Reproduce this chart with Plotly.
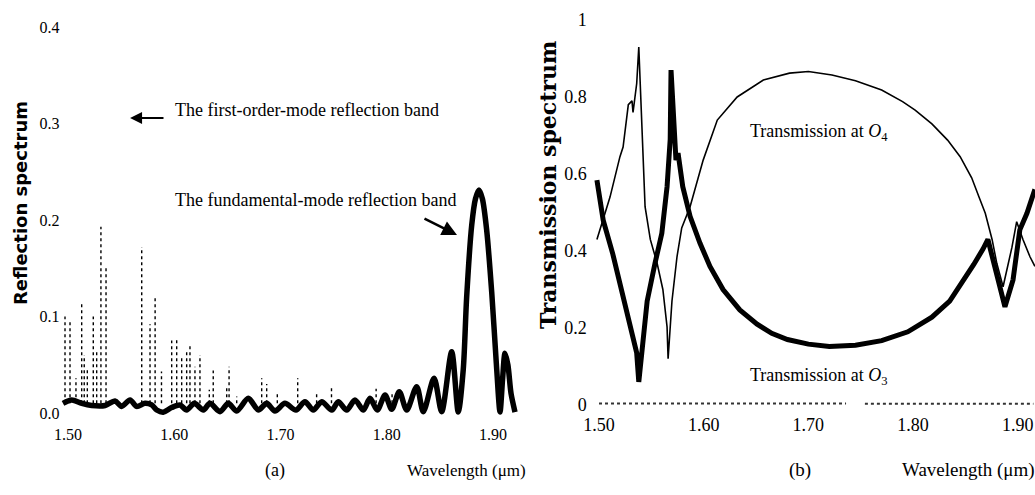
import plotly.graph_objects as go

# ---------------- Panel (a): reflection spectrum ----------------
wl_a = [1.4953, 1.5035, 1.513, 1.5223, 1.535, 1.5442, 1.5505, 1.5584, 1.5646, 1.5725,
        1.5788, 1.5835, 1.5897, 1.5976, 1.6054, 1.6117, 1.6189, 1.6274, 1.6336, 1.643,
        1.6509, 1.6588, 1.6697, 1.6791, 1.687, 1.6948, 1.7042, 1.7145, 1.723, 1.7309,
        1.7388, 1.7482, 1.7544, 1.7623, 1.7701, 1.778, 1.7842, 1.7911, 1.7984, 1.8047,
        1.8118, 1.8188, 1.8282, 1.8344, 1.8445, 1.8517, 1.8611, 1.8673, 1.872, 1.8752,
        1.88, 1.8835, 1.8868, 1.890, 1.894, 1.8988, 1.9035, 1.9066, 1.909, 1.9113,
        1.914, 1.917, 1.9207]
refl_fund = [0.010, 0.0135, 0.010, 0.0078, 0.0078, 0.0125, 0.0068, 0.0135, 0.0068, 0.010,
             0.0083, 0.0031, 0.0008, 0.0056, 0.0083, 0.0031, 0.010, 0.0031, 0.010, 0.0014,
             0.010, 0.002, 0.0152, 0.003, 0.010, 0.002, 0.010, 0.003, 0.0117, 0.003,
             0.0117, 0.003, 0.0117, 0.003, 0.0135, 0.003, 0.0152, 0.003, 0.0186, 0.0038,
             0.022, 0.003, 0.0273, 0.0014, 0.036, 0.0014, 0.0635, 0.001, 0.045, 0.12,
             0.195, 0.222, 0.231, 0.222, 0.19, 0.125, 0.045, 0.001, 0.035, 0.062,
             0.05, 0.02, 0.001]

# first-order-mode reflection band: narrow spikes (position, top value)
spike_wl = [1.4972, 1.5019, 1.5075, 1.5129, 1.5153, 1.5182, 1.5238, 1.527, 1.531, 1.5358,
            1.5694, 1.5772, 1.582, 1.588, 1.5976, 1.6023, 1.607, 1.6117, 1.6148, 1.6195,
            1.6242, 1.633, 1.6367, 1.6494, 1.6516, 1.6588, 1.6823, 1.687, 1.697, 1.7162,
            1.734, 1.748, 1.79, 1.805]
spike_top = [0.10, 0.096, 0.036, 0.114, 0.06, 0.045, 0.10, 0.065, 0.193, 0.15,
             0.172, 0.092, 0.12, 0.043, 0.075, 0.076, 0.058, 0.065, 0.07, 0.048,
             0.06, 0.024, 0.044, 0.027, 0.048, 0.017, 0.036, 0.03, 0.02, 0.036,
             0.022, 0.027, 0.025, 0.022]
spike_base = 0.01

# ---------------- Panel (b): transmission spectra ----------------
wl_b_thin = [1.498, 1.504, 1.5105, 1.520, 1.523, 1.528, 1.5315, 1.5325, 1.536, 1.538,
             1.541, 1.544, 1.549, 1.5555, 1.561, 1.565, 1.566, 1.5697, 1.5745, 1.579,
             1.587, 1.5995, 1.613, 1.632, 1.657, 1.682, 1.700, 1.7225, 1.745, 1.770,
             1.790, 1.802, 1.818, 1.833, 1.845, 1.856, 1.863, 1.869, 1.8755, 1.880,
             1.886, 1.8945, 1.899, 1.905, 1.9117, 1.9164]
trans_o4 = [0.43, 0.48, 0.54, 0.645, 0.67, 0.78, 0.79, 0.76, 0.835, 0.93,
            0.706, 0.515, 0.43, 0.368, 0.30, 0.203, 0.12, 0.27, 0.385, 0.46,
            0.515, 0.636, 0.74, 0.80, 0.844, 0.862, 0.866, 0.857, 0.842, 0.818,
            0.788, 0.766, 0.73, 0.688, 0.645, 0.59, 0.54, 0.498, 0.43, 0.368,
            0.307, 0.41, 0.476, 0.43, 0.385, 0.36]

wl_b_thick = [1.498, 1.504, 1.513, 1.520, 1.527, 1.5315, 1.534, 1.536, 1.538, 1.541,
              1.546, 1.5535, 1.560, 1.565, 1.568, 1.5688, 1.5707, 1.5735, 1.5755, 1.580,
              1.587, 1.5965, 1.606, 1.6185, 1.6345, 1.651, 1.665, 1.680, 1.700, 1.720,
              1.745, 1.770, 1.795, 1.818, 1.835, 1.8477, 1.858, 1.8668, 1.8715, 1.878,
              1.8878, 1.8955, 1.902, 1.9088, 1.9164]
trans_o3 = [0.584, 0.48, 0.394, 0.316, 0.23, 0.175, 0.16, 0.135, 0.06, 0.135,
            0.27, 0.368, 0.446, 0.567, 0.69, 0.87, 0.75, 0.636, 0.654, 0.567,
            0.49, 0.42, 0.36, 0.30, 0.247, 0.21, 0.186, 0.170, 0.158, 0.152,
            0.155, 0.167, 0.19, 0.228, 0.27, 0.32, 0.365, 0.405, 0.43, 0.36,
            0.255, 0.325, 0.455, 0.498, 0.56]

wl_b_zero = [1.500, 1.550, 1.600, 1.650, 1.700, 1.736, None, 1.754, 1.800, 1.850, 1.900, 1.915]
trans_zero = [0.004, 0.004, 0.004, 0.004, 0.004, 0.004, None, 0.003, 0.003, 0.003, 0.003, 0.003]

x_ticks = [1.50, 1.60, 1.70, 1.80, 1.90]
ya_ticks = [0.0, 0.1, 0.2, 0.3, 0.4]
yb_ticks = [0, 0.2, 0.4, 0.6, 0.8, 1]

SERIF = "Liberation Serif"

sx, sy = [], []
for w, h in zip(spike_wl, spike_top):
    sx += [w, w, None]
    sy += [spike_base, h, None]

fig = go.Figure()
fig.add_trace(go.Scatter(x=sx, y=sy, mode="lines", xaxis="x", yaxis="y",
                         line=dict(color="black", width=1.4, dash="dot"),
                         connectgaps=False, showlegend=False, hoverinfo="skip"))
fig.add_trace(go.Scatter(x=wl_a, y=refl_fund, mode="lines", xaxis="x", yaxis="y",
                         line=dict(color="black", width=5.5, shape="spline", smoothing=0.8),
                         showlegend=False))
fig.add_trace(go.Scatter(x=wl_b_zero, y=trans_zero, mode="lines", xaxis="x2", yaxis="y2",
                         line=dict(color="#333333", width=2, dash="dot"),
                         connectgaps=False, showlegend=False))
fig.add_trace(go.Scatter(x=wl_b_thin, y=trans_o4, mode="lines", xaxis="x2", yaxis="y2",
                         line=dict(color="black", width=1.6), showlegend=False))
fig.add_trace(go.Scatter(x=wl_b_thick, y=trans_o3, mode="lines", xaxis="x2", yaxis="y2",
                         line=dict(color="black", width=5), showlegend=False))


def ax(size, **kw):
    d = dict(showgrid=False, zeroline=False, showline=False, ticks="", automargin=False,
             tickfont=dict(family=SERIF, size=size, color="black"))
    d.update(kw)
    return d


fig.update_layout(
    template="none",
    width=1035, height=495,
    margin=dict(l=0, r=0, t=0, b=0, autoexpand=False),
    paper_bgcolor="white", plot_bgcolor="white",
    font=dict(family=SERIF, color="black"),
    xaxis=ax(16, domain=[0.0585, 0.502], range=[1.493, 1.925], tickvals=x_ticks,
             tickformat=".2f", anchor="y"),
    yaxis=ax(16, domain=[0.1462, 0.9649], range=[-0.01, 0.41], tickvals=ya_ticks,
             tickformat=".1f", anchor="x"),
    xaxis2=ax(18, domain=[0.5737, 1.0], range=[1.495, 1.9165], tickvals=x_ticks,
              tickformat=".2f", anchor="y2", ticklabelstandoff=-1),
    yaxis2=ax(18, domain=[0.1663, 0.9752], range=[-0.02, 1.02], tickvals=yb_ticks,
              anchor="x2", ticklabelstandoff=6),
)

ann = []
ann.append(dict(xref="x", yref="y", x=1.5988, y=0.314, text="The first-order-mode reflection band",
                showarrow=False, xanchor="left", yanchor="middle",
                font=dict(family=SERIF, size=18, color="black")))
ann.append(dict(xref="x", yref="y", x=1.5584, y=0.3057, axref="x", ayref="y", ax=1.5913, ay=0.3057,
                text="", showarrow=True, arrowhead=2, arrowsize=1.2, arrowwidth=2, arrowcolor="black"))
ann.append(dict(xref="x", yref="y", x=1.5988, y=0.2207, text="The fundamental-mode reflection band",
                showarrow=False, xanchor="left", yanchor="middle",
                font=dict(family=SERIF, size=18, color="black")))
ann.append(dict(xref="x", yref="y", x=1.8661, y=0.1845, ax=-34, ay=-17,
                text="", showarrow=True, arrowhead=2, arrowsize=1.2, arrowwidth=2.5, arrowcolor="black"))
ann.append(dict(xref="paper", yref="paper", x=275 / 1035, y=1 - 470 / 495, text="(a)",
                showarrow=False, xanchor="center", yanchor="middle",
                font=dict(family=SERIF, size=18, color="black")))
ann.append(dict(xref="paper", yref="paper", x=466 / 1035, y=1 - 470 / 495, text="Wavelength (μm)",
                showarrow=False, xanchor="center", yanchor="middle",
                font=dict(family=SERIF, size=17, color="black")))
ann.append(dict(xref="paper", yref="paper", x=800 / 1035, y=1 - 470 / 495, text="(b)",
                showarrow=False, xanchor="center", yanchor="middle",
                font=dict(family=SERIF, size=19, color="black")))
ann.append(dict(xref="paper", yref="paper", x=968 / 1035, y=1 - 470 / 495, text="Wavelength (μm)",
                showarrow=False, xanchor="center", yanchor="middle",
                font=dict(family=SERIF, size=19, color="black")))
ann.append(dict(xref="x2", yref="y2", x=1.6422, y=0.7065,
                text="Transmission at <i>O</i><sub>4</sub>",
                showarrow=False, xanchor="left", yanchor="middle",
                font=dict(family=SERIF, size=18, color="black")))
ann.append(dict(xref="x2", yref="y2", x=1.6422, y=0.0727,
                text="Transmission at <i>O</i><sub>3</sub>",
                showarrow=False, xanchor="left", yanchor="middle",
                font=dict(family=SERIF, size=18, color="black")))
ann.append(dict(xref="paper", yref="paper", x=20 / 1035, y=1 - 203 / 495,
                text="<b>Reflection spectrum</b>", textangle=-90,
                showarrow=False, xanchor="center", yanchor="middle",
                font=dict(family="DejaVu Sans", size=18, color="black")))
ann.append(dict(xref="paper", yref="paper", x=548 / 1035, y=1 - 185 / 495,
                text="<b>Transmission spectrum</b>", textangle=-90,
                showarrow=False, xanchor="center", yanchor="middle",
                font=dict(family="DejaVu Serif", size=22, color="black")))
fig.update_layout(annotations=ann)

fig.write_html("out.html")
